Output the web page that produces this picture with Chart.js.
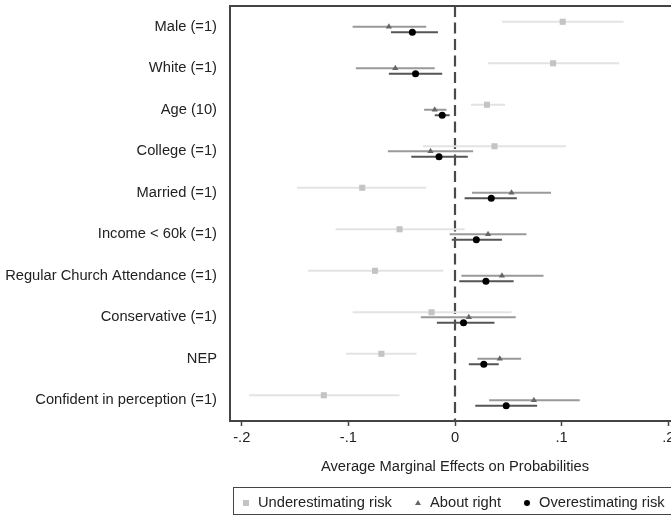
<!DOCTYPE html>
<html>
<head>
<meta charset="utf-8">
<script src="https://cdn.jsdelivr.net/npm/chart.js@4/dist/chart.umd.min.js"></script>
<style>
  html, body { margin: 0; padding: 0; background: #fff; overflow: hidden; }
  #wrap { position: relative; width: 671px; height: 517px; overflow: hidden; }
  canvas { position: absolute; left: 0; top: 0; }
  .legend {
    position: absolute; left: 233px; top: 487px; width: 470px; height: 28px;
    border: 1px solid #444; box-sizing: border-box;
    font: 14.7px "Liberation Sans", Arial, sans-serif; color: #222;
  }
  .legend span { position: absolute; top: 6px; white-space: nowrap; }
  .mk { position: absolute; }
</style>
</head>
<body>
<div id="wrap">
  <canvas id="ameChart" width="700" height="517"></canvas>
  <div class="legend">
    <div class="mk" style="left:9px;top:12px;width:6px;height:6px;background:#c4c4c4"></div>
    <span style="left:24px">Underestimating risk</span>
    <div class="mk" style="left:181px;top:12px;width:0;height:0;border-left:3px solid transparent;border-right:3px solid transparent;border-bottom:5px solid #666"></div>
    <span style="left:196px">About right</span>
    <div class="mk" style="left:290px;top:12px;width:6px;height:6px;border-radius:3px;background:#000"></div>
    <span style="left:305px">Overestimating risk</span>
  </div>
</div>
<script>
const categories = [
    'Male (=1)', 'White (=1)', 'Age (10)', 'College (=1)', 'Married (=1)',
    'Income < 60k (=1)', 'Regular Church Attendance (=1)', 'Conservative (=1)',
    'NEP', 'Confident in perception (=1)'
];

// Underestimating risk
const underEst = [0.101, 0.092, 0.030, 0.037, -0.087, -0.052, -0.075, -0.022, -0.069, -0.123];
const underLo  = [0.044, 0.031, 0.015, -0.030, -0.148, -0.112, -0.138, -0.096, -0.102, -0.193];
const underHi  = [0.158, 0.154, 0.047, 0.104, -0.027, 0.009, -0.011, 0.053, -0.036, -0.052];

// About right
const rightEst = [-0.062, -0.056, -0.019, -0.023, 0.053, 0.031, 0.044, 0.013, 0.042, 0.074];
const rightLo  = [-0.096, -0.093, -0.029, -0.063, 0.016, -0.005, 0.006, -0.032, 0.021, 0.032];
const rightHi  = [-0.027, -0.019, -0.008, 0.017, 0.090, 0.067, 0.083, 0.057, 0.062, 0.117];

// Overestimating risk
const overEst = [-0.040, -0.037, -0.012, -0.015, 0.034, 0.020, 0.029, 0.008, 0.027, 0.048];
const overLo  = [-0.060, -0.062, -0.019, -0.041, 0.009, -0.003, 0.004, -0.017, 0.013, 0.019];
const overHi  = [-0.016, -0.012, -0.005, 0.012, 0.058, 0.044, 0.055, 0.037, 0.041, 0.077];

const xTicks = [-0.2, -0.1, 0, 0.1, 0.2];
const xTickLabels = ['-.2', '-.1', '0', '.1', '.2'];

const FONT = '"Liberation Sans", Arial, sans-serif';
const FSIZE = 14.7;

// row offsets so the three estimates sit stacked within a row
const OFF = { under: -0.12, right: 0, over: 0.13 };

function points(est, off) {
    return est.map((v, i) => ({ x: v, y: i + 1 + off }));
}

// CI segments, separated by empty points so the line breaks between rows
function segments(lo, hi, off) {
    const out = [];
    lo.forEach((v, i) => {
        out.push({ x: v, y: i + 1 + off });
        out.push({ x: hi[i], y: i + 1 + off });
        out.push({ x: null, y: null });
    });
    return out;
}

function ciLine(lo, hi, off, color, width) {
    return {
        data: segments(lo, hi, off),
        showLine: true,
        borderColor: color,
        borderWidth: width,
        pointRadius: 0,
        spanGaps: false,
        order: 5
    };
}

function marker(est, off, style, color, radius) {
    return {
        data: points(est, off),
        pointStyle: style,
        pointRadius: radius,
        backgroundColor: color,
        borderColor: color,
        borderWidth: 0,
        showLine: false,
        order: 1
    };
}

// top frame line of the plot region
const topFrame = {
    id: 'topFrame',
    afterDraw(chart) {
        const { ctx, chartArea } = chart;
        ctx.save();
        ctx.strokeStyle = '#444';
        ctx.lineWidth = 2;
        ctx.beginPath();
        ctx.moveTo(chartArea.left - 1, chartArea.top);
        ctx.lineTo(chartArea.right, chartArea.top);
        ctx.stroke();
        ctx.restore();
    }
};

new Chart(document.getElementById('ameChart'), {
    type: 'scatter',
    data: {
        datasets: [
            {
                data: [{ x: 0, y: 0.5 }, { x: 0, y: 10.5 }],
                showLine: true,
                borderColor: '#4a4a4a',
                borderWidth: 2.2,
                borderDash: [11, 5.5],
                pointRadius: 0,
                order: 10
            },
            ciLine(underLo, underHi, OFF.under, '#e3e3e3', 2),
            ciLine(rightLo, rightHi, OFF.right, '#999', 2),
            ciLine(overLo, overHi, OFF.over, '#555', 2),
            marker(underEst, OFF.under, 'rect', '#c4c4c4', 4.3),
            marker(rightEst, OFF.right, 'triangle', '#666', 3.6),
            marker(overEst, OFF.over, 'circle', '#000', 3.5)
        ]
    },
    options: {
        responsive: false,
        animation: false,
        layout: { padding: { top: 6, right: 20, left: 0, bottom: 0 } },
        plugins: { legend: { display: false }, tooltip: { enabled: false } },
        scales: {
            x: {
                type: 'linear',
                min: -0.211,
                max: 0.211,
                afterBuildTicks: s => { s.ticks = xTicks.map(v => ({ value: v })); },
                afterFit: s => { s.height = 96; },
                ticks: {
                    callback: v => xTickLabels[xTicks.indexOf(v)],
                    font: { family: FONT, size: FSIZE },
                    color: '#222',
                    padding: 3,
                    maxRotation: 0
                },
                grid: { drawOnChartArea: false, drawTicks: true, tickLength: 5, tickColor: '#444', tickWidth: 1.5 },
                border: { color: '#444', width: 2 },
                title: {
                    display: true,
                    text: 'Average Marginal Effects on Probabilities',
                    font: { family: FONT, size: FSIZE },
                    color: '#222',
                    padding: { top: 0, bottom: 41 }
                }
            },
            y: {
                type: 'linear',
                reverse: true,
                min: 0.5,
                max: 10.5,
                afterBuildTicks: s => { s.ticks = categories.map((_, i) => ({ value: i + 1 })); },
                afterFit: s => { s.width = 230; s.paddingTop = 0; s.paddingBottom = 0; },
                ticks: {
                    callback: v => categories[v - 1],
                    font: { family: FONT, size: FSIZE },
                    color: '#222',
                    padding: 5
                },
                grid: { display: false },
                border: { color: '#444', width: 2 }
            }
        }
    },
    plugins: [topFrame]
});
</script>
</body>
</html>
